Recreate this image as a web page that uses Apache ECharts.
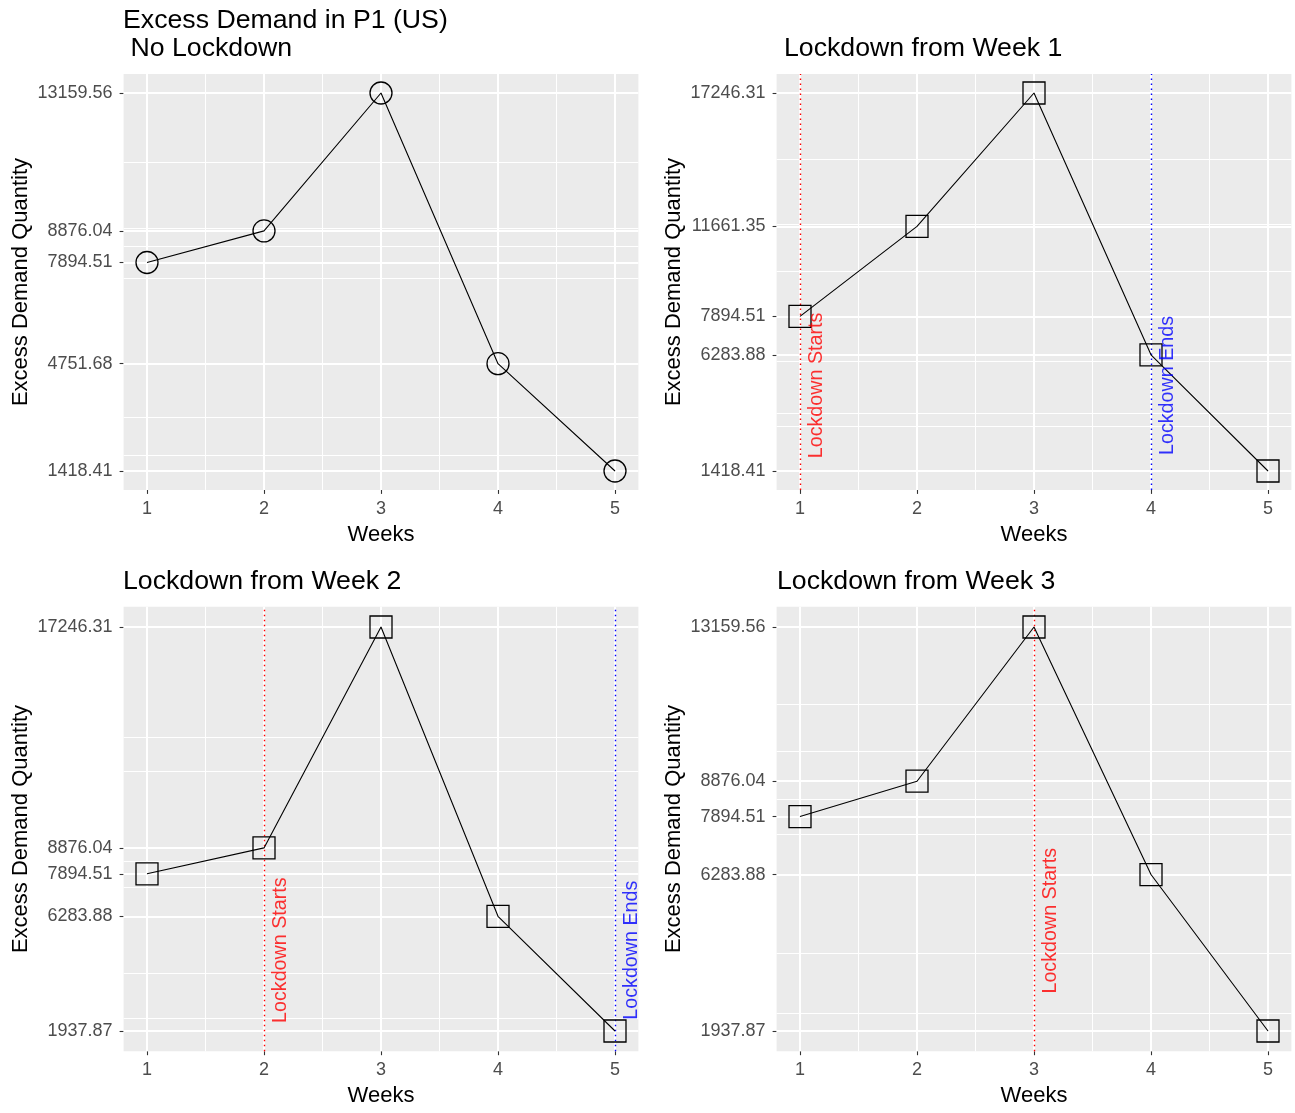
<!DOCTYPE html>
<html>
<head>
<meta charset="utf-8">
<script src="https://cdn.jsdelivr.net/npm/echarts@6/dist/echarts.min.js"></script>
<style>
html,body{margin:0;padding:0;background:#fff;}
#chart{width:1295px;height:1113px;}
</style>
</head>
<body>
<div id="chart"></div>
<script>
// ---- data ----
const weeks = [1, 2, 3, 4, 5];
const noLockdown    = [7894.51, 8876.04, 13159.56, 4751.68, 1418.41];
const lockdownWeek1 = [7894.51, 11661.35, 17246.31, 6283.88, 1418.41];
const lockdownWeek2 = [7894.51, 8876.04, 17246.31, 6283.88, 1937.87];
const lockdownWeek3 = [7894.51, 8876.04, 13159.56, 6283.88, 1937.87];

// y tick labels (breaks, in the order they were given)
const yTicks1 = [7894.51, 8876.04, 13159.56, 4751.68, 1418.41];
const yTicks2 = [7894.51, 11661.35, 17246.31, 6283.88, 1418.41];
const yTicks3 = [7894.51, 8876.04, 17246.31, 6283.88, 1937.87];
const yTicks4 = [7894.51, 8876.04, 13159.56, 6283.88, 1937.87];
const xTicks = [1, 2, 3, 4, 5];

const titles = ['Excess Demand in P1 (US)\n No Lockdown', 'Lockdown from Week 1', 'Lockdown from Week 2', 'Lockdown from Week 3'];
const lockStart = [null, 1, 2, 3];
const lockEnd = [null, 4, 5, null];
const annotY = 5000;
const annotDX = 0.14;

// ---- layout ----
const FONT = '"Liberation Sans", Arial, Helvetica, sans-serif';
const grids = [
  {left: 123.6, top: 74.1, width: 514.8, height: 415.8},
  {left: 776.6, top: 74.1, width: 514.8, height: 415.8},
  {left: 123.6, top: 606.8, width: 514.8, height: 444.4},
  {left: 776.6, top: 606.8, width: 514.8, height: 444.4}
];
const titlePos = [
  {left: 123, top: 7},
  {left: 784, top: 35},
  {left: 123, top: 568},
  {left: 777, top: 568}
];
const seriesData = [noLockdown, lockdownWeek1, lockdownWeek2, lockdownWeek3];
const yTicks = [yTicks1, yTicks2, yTicks3, yTicks4];
const symbols = ['circle', 'rect', 'rect', 'rect'];

function expandRange(vals) {
  const lo = Math.min(...vals), hi = Math.max(...vals);
  const r = hi - lo;
  return [lo - 0.05 * r, hi + 0.05 * r];
}
// ggplot2 regular_minor_breaks behaviour
function minorBreaks(b, lo, hi) {
  let bb = b.slice();
  const bd = bb[1] - bb[0];
  if (lo < Math.min(...bb)) bb = [bb[0] - bd].concat(bb);
  if (hi > Math.max(...bb)) bb = bb.concat([bb[bb.length - 1] + bd]);
  const out = [];
  for (let i = 0; i < bb.length - 1; i++) out.push((bb[i] + bb[i + 1]) / 2);
  return out.filter(v => v >= lo && v <= hi);
}

const option = {
  animation: false,
  backgroundColor: '#ffffff',
  title: [], grid: [], xAxis: [], yAxis: [], series: []
};

for (let p = 0; p < 4; p++) {
  const [ymin, ymax] = expandRange(seriesData[p]);
  const [xmin, xmax] = expandRange(weeks);
  option.title.push({
    text: titles[p], left: titlePos[p].left, top: titlePos[p].top, padding: 0,
    textStyle: {fontFamily: FONT, fontSize: 26.7, lineHeight: 28, fontWeight: 'normal', color: '#000'}
  });
  option.grid.push(Object.assign({show: true, backgroundColor: '#EBEBEB', borderWidth: 0}, grids[p]));
  option.xAxis.push({
    type: 'value', gridIndex: p, min: xmin, max: xmax,
    name: 'Weeks', nameLocation: 'middle', nameGap: 34,
    nameTextStyle: {fontFamily: FONT, fontSize: 22, color: '#000'},
    axisLine: {show: false},
    axisTick: {show: true, length: 4, lineStyle: {color: '#333', width: 1.1}, customValues: xTicks},
    axisLabel: {fontFamily: FONT, fontSize: 18, color: '#4D4D4D', margin: 10, customValues: xTicks,
      formatter: v => String(v)},
    splitLine: {show: false}
  });
  option.yAxis.push({
    type: 'value', gridIndex: p, min: ymin, max: ymax,
    name: 'Excess Demand Quantity', nameLocation: 'middle', nameGap: 92,
    nameTextStyle: {fontFamily: FONT, fontSize: 22, color: '#000'},
    axisLine: {show: false},
    axisTick: {show: true, length: 4, lineStyle: {color: '#333', width: 1.1}, customValues: yTicks[p]},
    axisLabel: {fontFamily: FONT, fontSize: 18, color: '#4D4D4D', margin: 11, customValues: yTicks[p],
      formatter: v => Number(v).toFixed(2)},
    splitLine: {show: false}
  });

  // grid lines (ggplot style: major + minor, white)
  const gridLines = [];
  const yMinor = minorBreaks(yTicks[p], ymin, ymax);
  const xMinor = minorBreaks(xTicks, xmin, xmax);
  yMinor.forEach(v => gridLines.push({yAxis: v, lineStyle: {color: '#fff', width: 1, type: 'solid'}}));
  xMinor.forEach(v => gridLines.push({xAxis: v, lineStyle: {color: '#fff', width: 1, type: 'solid'}}));
  yTicks[p].forEach(v => gridLines.push({yAxis: v, lineStyle: {color: '#fff', width: 2, type: 'solid'}}));
  xTicks.forEach(v => gridLines.push({xAxis: v, lineStyle: {color: '#fff', width: 2, type: 'solid'}}));
  const lockLines = [];
  if (lockStart[p] !== null) lockLines.push({xAxis: lockStart[p], lineStyle: {color: '#FF0000', width: 1.4, type: [1.5, 3.5]}});
  if (lockEnd[p] !== null) lockLines.push({xAxis: lockEnd[p], lineStyle: {color: '#0000FF', width: 1.4, type: [1.5, 3.5]}});

  const pts = weeks.map((w, i) => [w, seriesData[p][i]]);
  option.series.push({
    type: 'line', xAxisIndex: p, yAxisIndex: p, data: pts, z: 1, silent: true,
    showSymbol: false, lineStyle: {opacity: 0},
    markLine: {silent: true, z: 1, symbol: ['none', 'none'], label: {show: false}, animation: false,
      emphasis: {disabled: true}, data: gridLines.concat(lockLines)}
  });
  option.series.push({
    type: 'line', xAxisIndex: p, yAxisIndex: p, data: pts, z: 10,
    symbol: symbols[p], symbolSize: 22, showSymbol: true,
    lineStyle: {color: '#000', width: 1.1},
    itemStyle: {color: 'rgba(0,0,0,0)', borderColor: '#000', borderWidth: 1.3}
  });
  const ann = [];
  if (lockStart[p] !== null) ann.push({value: [lockStart[p] + annotDX, annotY], label: {formatter: 'Lockdown Starts', color: '#FF0000'}});
  if (lockEnd[p] !== null) ann.push({value: [lockEnd[p] + annotDX, annotY], label: {formatter: 'Lockdown Ends', color: '#0000FF'}});
  if (ann.length) {
    option.series.push({
      type: 'scatter', xAxisIndex: p, yAxisIndex: p, data: ann, z: 12, symbolSize: 2,
      itemStyle: {color: 'rgba(0,0,0,0)'},
      label: {show: true, position: 'inside', rotate: 90, fontFamily: FONT, fontSize: 19.7, align: 'center', verticalAlign: 'middle'}
    });
  }
}

const chart = echarts.init(document.getElementById('chart'), null, {renderer: 'canvas'});
chart.setOption(option);
</script>
</body>
</html>
